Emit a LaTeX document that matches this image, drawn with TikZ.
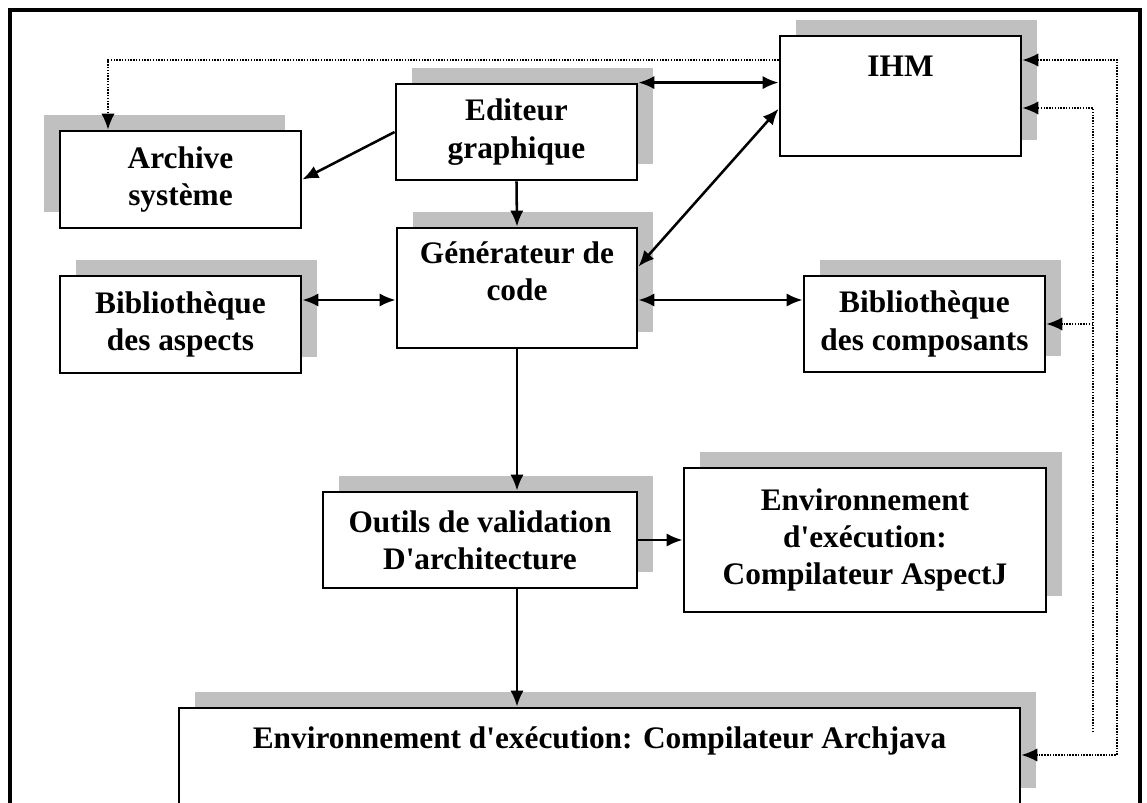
\documentclass[tikz,border=0pt]{standalone}
\usepackage{fontspec}
\setmainfont{Liberation Serif}[Ligatures=TeXOff]
\usetikzlibrary{arrows.meta,shadows}
\definecolor{ShadeGray}{RGB}{192,192,192}

\begin{document}
\begin{tikzpicture}[x=0.75pt,y=-0.75pt,>={Latex[length=12pt,width=10pt]},
    font=\fontsize{23.5}{28}\selectfont\bfseries,
    modbox/.style={draw,line width=2.1pt,fill=white,align=center,inner sep=0pt,
      general shadow={fill=ShadeGray,shadow xshift=#1,shadow yshift=12pt}},
    modbox/.default=12pt,
    topline/.style={anchor=north,align=center},
    link/.style={line width=1.9pt},
    ctl/.style={densely dotted,line width=1.1pt}]
  \useasboundingbox (0,0) rectangle (1147,803);
  \draw[line width=3pt] (10,10) rectangle (1140,830);
  % modules
  \node[modbox=-12pt,minimum width=180.75pt,minimum height=72.75pt] (arc) at (180.5,179.5) {Archive\\système};
  \node[modbox,minimum width=180.75pt,minimum height=72pt] (edit) at (516.5,132) {Editeur\\graphique};
  \node[modbox,minimum width=180.75pt,minimum height=90pt,
    label={[topline,inner sep=16pt]north:IHM}] (ihm) at (900.5,96) {};
  \node[modbox,minimum width=180pt,minimum height=90pt,
    label={[topline,inner sep=11pt]north:{Générateur de\\code}}] (gen) at (517,288) {};
  \node[modbox,minimum width=180.75pt,minimum height=72.75pt] (asp) at (180.5,324.5) {Bibliothèque\\des aspects};
  \node[modbox,minimum width=180.75pt,minimum height=72pt] (comp) at (924.5,324) {Bibliothèque\\des composants};
  \node[modbox,minimum width=235.5pt,minimum height=72pt] (val) at (480,540) {Outils de validation\\D'architecture};
  \node[modbox,minimum width=271.5pt,minimum height=108pt] (aspj) at (865,540) {Environnement\\d'exécution:\\Compilateur AspectJ};
  \node[modbox,minimum width=630.75pt,minimum height=72pt,
    label={[topline,inner sep=15pt]north:{Environnement d'exécution: Compilateur Archjava}}] (env) at (599.5,756) {};
  % bends of the dotted lines
  \coordinate (d1) at (108,60);
  \coordinate (d2) at (1117,60);
  \coordinate (d3) at (1117,755);
  \coordinate (d4) at (1093,108);
  \coordinate (d5) at (1093,732);
  \coordinate (h1) at (0,300);
  % solid links
  \draw[link,->] (edit.west) -- (arc.east);
  \draw[link,->] (edit.south) -- (gen.north);
  \draw[link,<->] (edit.north east) -- (ihm.west |- edit.north east);
  \draw[link,<->] (ihm.186) -- (gen.10);
  \draw[link,<->] (asp.east |- h1) -- (gen.west |- h1);
  \draw[link,<->] (gen.east |- h1) -- (comp.west |- h1);
  \draw[link,->] (gen.south) -- (gen.south |- val.north);
  \draw[link,->] (val.east) -- (aspj.west);
  \draw[link,->] (gen.south |- val.south) -- (gen.south |- env.north);
  % dotted lines
  \draw[ctl,->] (ihm.west |- d1) -- (d1) -- (d1 |- arc.north);
  \draw[ctl,<->] (ihm.east |- d2) -- (d2) -- (d3) -- (d3 -| env.east);
  \draw[ctl,->] (d5) -- (d4) -- (d4 -| ihm.east);
  \draw[ctl,->] (comp.east -| d4) -- (comp.east);
\end{tikzpicture}
\end{document}
